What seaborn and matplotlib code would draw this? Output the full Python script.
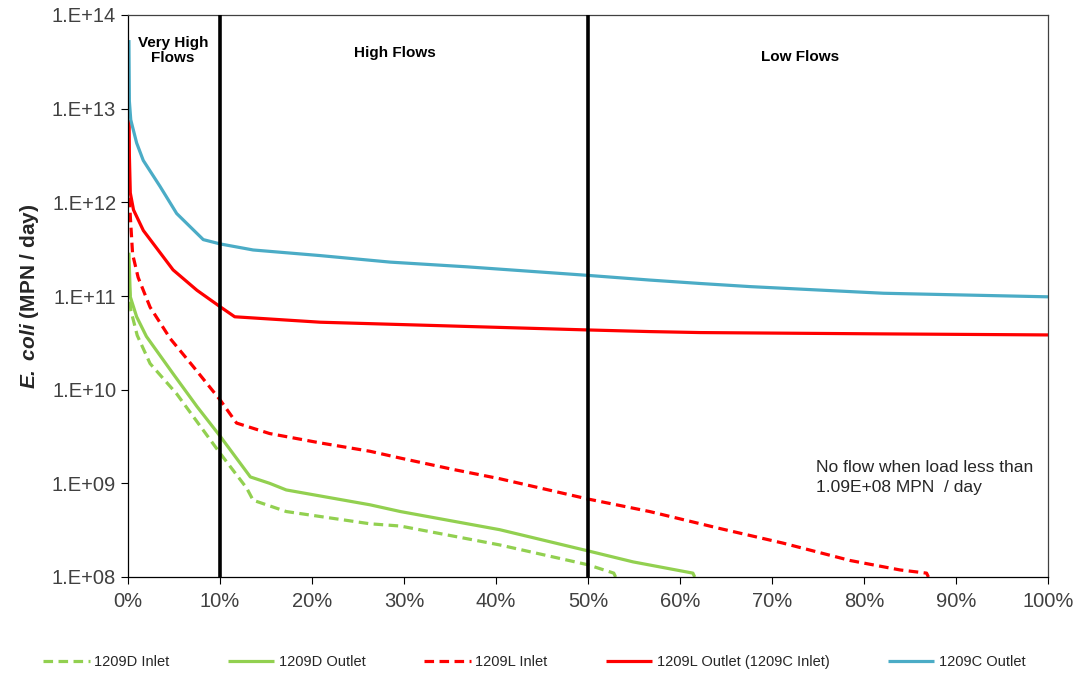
import numpy as np
import pandas as pd
import matplotlib
matplotlib.use("Agg")
import matplotlib.pyplot as plt
from matplotlib.ticker import FuncFormatter, FixedLocator
import seaborn as sns

# ---------------- data ----------------
blue_x = [0.1, 0.15, 0.3, 0.94, 1.66, 3.48, 5.29, 8.18, 10, 13.6, 20.9, 28.5, 36.8, 50, 56.7, 62.2, 67.6, 82.1, 100]
blue_y = [5.4e13, 1.2e13, 7.6e12, 4.3e12, 2.8e12, 1.48e12, 7.6e11, 4.0e11, 3.6e11, 3.1e11, 2.7e11, 2.3e11,
          2.05e11, 1.66e11, 1.48e11, 1.36e11, 1.26e11, 1.07e11, 9.8e10]

red_x = [0.12, 0.15, 0.25, 0.6, 1.67, 4.9, 7.5, 10, 11.6, 20.9, 50, 56.7, 62.2, 82, 100]
red_y = [7.6e12, 3.2e12, 1.26e12, 8.3e11, 5.0e11, 1.9e11, 1.15e11, 7.7e10, 6.0e10, 5.25e10, 4.34e10,
         4.17e10, 4.07e10, 3.94e10, 3.84e10]

redin_x = [0.15, 0.25, 0.5, 1.1, 2.4, 4.6, 7.1, 10, 11.8, 15.4, 20.9, 26.3, 29.6, 35.3, 40.4, 50, 56.7,
           64.3, 71.2, 78.5, 83.9, 86.8, 87.0]
redin_y = [1.12e12, 7.1e11, 2.8e11, 1.58e11, 7.6e10, 3.5e10, 1.76e10, 7.8e9, 4.4e9, 3.4e9, 2.7e9, 2.2e9,
           1.86e9, 1.41e9, 1.12e9, 6.8e8, 5.0e8, 3.3e8, 2.3e8, 1.5e8, 1.19e8, 1.1e8, 1.0e8]

gout_x = [0.1, 0.25, 0.94, 2.0, 4.9, 7.5, 10, 13.3, 15.4, 17.2, 26.3, 29.6, 40.4, 50, 54.9, 61.4, 61.6]
gout_y = [2.9e11, 9.8e10, 6.0e10, 3.7e10, 1.48e10, 6.6e9, 3.2e9, 1.17e9, 1.0e9, 8.5e8, 5.9e8, 5.0e8,
          3.2e8, 1.9e8, 1.45e8, 1.1e8, 1.0e8]

gin_x = [0.15, 0.3, 1.0, 2.4, 5.3, 10, 12.9, 13.6, 17.2, 26.3, 29.6, 40.4, 50, 52.8, 53.0]
gin_y = [1.26e11, 7.1e10, 3.8e10, 1.9e10, 9.0e9, 2.1e9, 8.9e8, 6.6e8, 5.0e8, 3.7e8, 3.5e8, 2.2e8, 1.35e8,
         1.1e8, 1.0e8]

series_names = ["1209D Inlet", "1209D Outlet", "1209L Inlet", "1209L Outlet (1209C Inlet)", "1209C Outlet"]
zone_bounds = [10, 50]
zone_labels = ["Very High\nFlows", "High Flows", "Low Flows"]
zone_label_x = [4.9, 29.0, 73.0]
zone_label_logy = [13.62, 13.59, 13.55]
x_ticks = [0, 10, 20, 30, 40, 50, 60, 70, 80, 90, 100]
y_ticks = [1e8, 1e9, 1e10, 1e11, 1e12, 1e13, 1e14]
note_text = "No flow when load less than\n1.09E+08 MPN  / day"

# ---------------- style ----------------
sns.set_style("white")
plt.rcParams["font.family"] = ["Liberation Sans", "DejaVu Sans"]
plt.rcParams["mathtext.fontset"] = "custom"
plt.rcParams["mathtext.bfit"] = "Liberation Sans:italic:bold"
plt.rcParams["mathtext.bf"] = "Liberation Sans:bold"
plt.rcParams["mathtext.it"] = "Liberation Sans:italic"
plt.rcParams["mathtext.rm"] = "Liberation Sans"

GREEN = "#92D050"
RED = "#FF0000"
BLUE = "#4BACC6"

fig = plt.figure(figsize=(10.75, 6.74), dpi=100)
ax = fig.add_axes([128 / 1075, 1 - 577 / 674, (1048 - 128) / 1075, (577 - 15) / 674])

frames = []
for name, xs, ys in zip(series_names,
                        [gin_x, gout_x, redin_x, red_x, blue_x],
                        [gin_y, gout_y, redin_y, red_y, blue_y]):
    frames.append(pd.DataFrame({"pct": xs, "load": ys, "series": name}))
df = pd.concat(frames, ignore_index=True)

styles = {
    "1209D Inlet": (GREEN, True),
    "1209D Outlet": (GREEN, False),
    "1209L Inlet": (RED, True),
    "1209L Outlet (1209C Inlet)": (RED, False),
    "1209C Outlet": (BLUE, False),
}
for name in series_names:
    color, dashed = styles[name]
    sub = df[df["series"] == name]
    sns.lineplot(data=sub, x="pct", y="load", ax=ax, color=color, lw=2.3,
                 sort=False, estimator=None, label=name, legend=False)
    line = ax.get_lines()[-1]
    if dashed:
        line.set_dashes((3.0, 1.7))
    line.set_solid_capstyle("butt")

for xb in zone_bounds:
    ax.axvline(xb, color="black", lw=2.6, zorder=5)

ax.set_yscale("log")
ax.set_xlim(0, 100)
ax.set_ylim(1e8, 1e14)
ax.xaxis.set_major_locator(FixedLocator(x_ticks))
ax.yaxis.set_major_locator(FixedLocator(y_ticks))
ax.yaxis.set_minor_locator(FixedLocator([]))
ax.xaxis.set_major_formatter(FuncFormatter(lambda v, p: f"{v:.0f}%"))
ax.yaxis.set_major_formatter(FuncFormatter(lambda v, p: f"1.E+{int(round(np.log10(v))):02d}"))
ax.tick_params(axis="both", which="major", direction="out", length=5, width=0.8,
               colors="black", labelcolor="#404040", labelsize=14.5, left=True, bottom=True)
ax.tick_params(axis="x", pad=6)
for s in ax.spines.values():
    s.set_color("#404040")
    s.set_linewidth(0.9)
ax.spines["left"].set_color("black")
ax.spines["bottom"].set_color("black")

ax.set_xlabel("")
ax.set_ylabel(r"$\mathbfit{E.\ coli}$" + " (MPN / day)", fontsize=15, fontweight="bold", labelpad=8)

for lab, lx, ly in zip(zone_labels, zone_label_x, zone_label_logy):
    ax.text(lx, 10 ** ly, lab, ha="center", va="center",
            fontsize=11, fontweight="bold", color="black", linespacing=1.15)

ax.text(74.8, 10 ** 9.06, note_text, ha="left", va="center", fontsize=12.5, color="#262626",
        linespacing=1.4)

handles = ax.get_lines()[:5]
fig.legend(handles=handles, labels=series_names, loc="center", bbox_to_anchor=(0.497, 1 - 662 / 674),
           ncol=5, frameon=False, fontsize=10.5, handlelength=3.2, columnspacing=4.0,
           handletextpad=0.3, labelcolor="#262626")

fig.savefig("out.png", dpi=100)
